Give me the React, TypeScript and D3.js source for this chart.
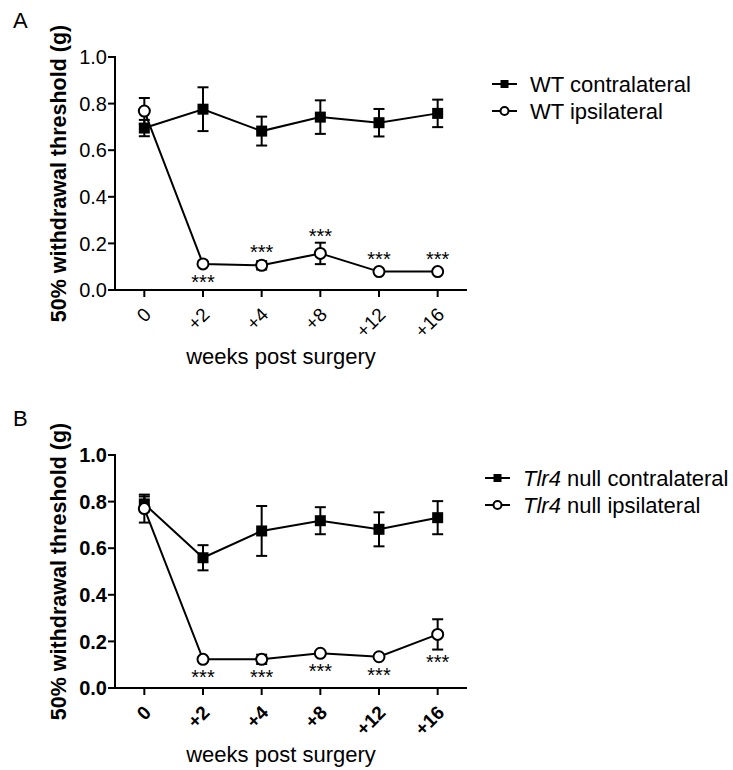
import React from "react";
import * as d3 from "d3";

const weeks = ["0", "+2", "+4", "+8", "+12", "+16"];
const yTicks = [0, 0.2, 0.4, 0.6, 0.8, 1.0];

// Panel A
const wtContraMean = [0.695, 0.776, 0.682, 0.742, 0.718, 0.758];
const wtContraSem = [0.035, 0.094, 0.062, 0.072, 0.059, 0.059];
const wtIpsiMean = [0.768, 0.112, 0.106, 0.157, 0.079, 0.079];
const wtIpsiSem = [0.056, 0.008, 0.018, 0.046, 0.006, 0.006];
const wtStars = ["", "below", "above", "above", "above", "above"];

// Panel B
const tlrContraMean = [0.79, 0.559, 0.674, 0.718, 0.681, 0.731];
const tlrContraSem = [0.032, 0.054, 0.107, 0.058, 0.073, 0.071];
const tlrIpsiMean = [0.77, 0.123, 0.123, 0.149, 0.134, 0.23];
const tlrIpsiSem = [0.06, 0.005, 0.02, 0.005, 0.005, 0.065];
const tlrStars = ["", "below", "below", "below", "below", "below"];

const FONT = "Liberation Sans, Arial, sans-serif";

type PanelProps = {
  top: number;
  letter: string;
  bold: boolean;
  contraMean: number[];
  contraSem: number[];
  ipsiMean: number[];
  ipsiSem: number[];
  stars: string[];
  legendPrefix: React.ReactNode;
  legendY: number;
  legendX: number;
};

function Panel(p: PanelProps) {
  const x = d3.scalePoint<string>().domain(weeks).range([115, 467]).padding(0.5);
  const y = d3.scaleLinear().domain([0, 1]).range([p.top + 233, p.top]);
  const line = d3
    .line<number>()
    .x((_, i) => x(weeks[i]) as number)
    .y((d) => y(d));
  const fw = p.bold ? "bold" : "normal";
  const capW = 5.5;

  const errBars = (mean: number[], sem: number[], key: string) =>
    mean.map((m, i) => {
      const cx = x(weeks[i]) as number;
      const y1 = y(m + sem[i]);
      const y0 = y(m - sem[i]);
      return (
        <g key={key + i} stroke="#000" strokeWidth={2}>
          <line x1={cx} x2={cx} y1={y1} y2={y0} />
          <line x1={cx - capW} x2={cx + capW} y1={y1} y2={y1} />
          <line x1={cx - capW} x2={cx + capW} y1={y0} y2={y0} />
        </g>
      );
    });

  return (
    <g>
      <text x={13} y={p.top - 29} fontFamily={FONT} fontSize={22}>
        {p.letter}
      </text>
      {/* axes */}
      <line x1={115} x2={115} y1={p.top - 1} y2={y(0) + 1} stroke="#000" strokeWidth={2} />
      <line x1={114} x2={467} y1={y(0)} y2={y(0)} stroke="#000" strokeWidth={2} />
      {yTicks.map((t) => (
        <g key={"yt" + t}>
          <line x1={108} x2={115} y1={y(t)} y2={y(t)} stroke="#000" strokeWidth={2} />
          <text
            x={107}
            y={y(t)}
            dy="0.36em"
            textAnchor="end"
            fontFamily={FONT}
            fontSize={20}
            fontWeight={fw}
          >
            {d3.format(".1f")(t)}
          </text>
        </g>
      ))}
      {weeks.map((w) => {
        const cx = x(w) as number;
        return (
          <g key={"xt" + w}>
            <line x1={cx} x2={cx} y1={y(0)} y2={y(0) + 7} stroke="#000" strokeWidth={2} />
            <text
              transform={`translate(${cx + 3},${y(0) + 21}) rotate(-45)`}
              textAnchor="end"
              dy="0.36em"
              fontFamily={FONT}
              fontSize={19}
              fontWeight={fw}
            >
              {w}
            </text>
          </g>
        );
      })}
      <text
        transform={`translate(66,${p.top + 116.5}) rotate(-90)`}
        textAnchor="middle"
        fontFamily={FONT}
        fontSize={21.5}
        fontWeight="bold"
      >
        50% withdrawal threshold (g)
      </text>
      <text x={281} y={y(0) + 74} textAnchor="middle" fontFamily={FONT} fontSize={22}>
        weeks post surgery
      </text>
      {/* error bars */}
      {errBars(p.contraMean, p.contraSem, "ce")}
      {errBars(p.ipsiMean, p.ipsiSem, "ie")}
      {/* lines */}
      <path d={line(p.contraMean) || ""} fill="none" stroke="#000" strokeWidth={2} />
      <path d={line(p.ipsiMean) || ""} fill="none" stroke="#000" strokeWidth={2} />
      {p.contraMean.map((m, i) => (
        <rect
          key={"sq" + i}
          x={(x(weeks[i]) as number) - 5.5}
          y={y(m) - 5.5}
          width={11}
          height={11}
          fill="#000"
        />
      ))}
      {p.ipsiMean.map((m, i) => (
        <circle
          key={"c" + i}
          cx={x(weeks[i]) as number}
          cy={y(m)}
          r={5.5}
          fill="#fff"
          stroke="#000"
          strokeWidth={2}
        />
      ))}
      {p.stars.map((s, i) => {
        if (!s) return null;
        const cx = x(weeks[i]) as number;
        const top = y(p.ipsiMean[i] + p.ipsiSem[i]);
        const bot = y(p.ipsiMean[i] - p.ipsiSem[i]);
        const yy =
          s === "above"
            ? Math.min(top, y(p.ipsiMean[i]) - 6)
            : Math.max(bot, y(p.ipsiMean[i]) + 6) + 19;
        return (
          <text key={"st" + i} x={cx} y={yy} textAnchor="middle" fontFamily={FONT} fontSize={20}>
            ***
          </text>
        );
      })}
      {/* legend */}
      <g>
        <line x1={p.legendX} x2={p.legendX + 25} y1={p.legendY} y2={p.legendY} stroke="#000" strokeWidth={2} />
        <rect x={p.legendX + 8.5} y={p.legendY - 4} width={8} height={8} fill="#000" />
        <text x={p.legendX + 38} y={p.legendY} dy="0.35em" fontFamily={FONT} fontSize={22}>
          {p.legendPrefix}contralateral
        </text>
        <line x1={p.legendX} x2={p.legendX + 25} y1={p.legendY + 27} y2={p.legendY + 27} stroke="#000" strokeWidth={2} />
        <circle cx={p.legendX + 12.5} cy={p.legendY + 27} r={4} fill="#fff" stroke="#000" strokeWidth={2} />
        <text x={p.legendX + 38} y={p.legendY + 27} dy="0.35em" fontFamily={FONT} fontSize={22}>
          {p.legendPrefix}ipsilateral
        </text>
      </g>
    </g>
  );
}

export default function App() {
  return (
    <svg
      width={733}
      height={770}
      style={{ position: "absolute", left: 0, top: 0, background: "#fff" }}
    >
      <rect width={733} height={770} fill="#fff" />
      <Panel
        top={57}
        letter="A"
        bold={false}
        contraMean={wtContraMean}
        contraSem={wtContraSem}
        ipsiMean={wtIpsiMean}
        ipsiSem={wtIpsiSem}
        stars={wtStars}
        legendPrefix={"WT "}
        legendX={492}
        legendY={84}
      />
      <Panel
        top={455}
        letter="B"
        bold={true}
        contraMean={tlrContraMean}
        contraSem={tlrContraSem}
        ipsiMean={tlrIpsiMean}
        ipsiSem={tlrIpsiSem}
        stars={tlrStars}
        legendPrefix={
          <>
            <tspan fontStyle="italic">Tlr4</tspan>
            {" null "}
          </>
        }
        legendX={485}
        legendY={478}
      />
    </svg>
  );
}
